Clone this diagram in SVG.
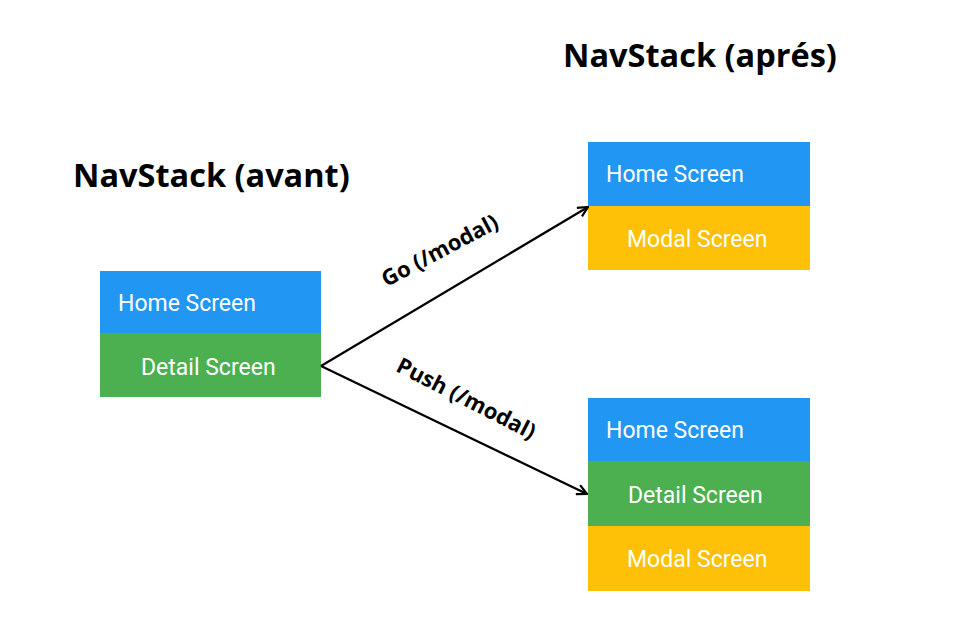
<svg xmlns="http://www.w3.org/2000/svg" width="980" height="644" viewBox="0 0 980 644">
<style>
.title{font-family:"Open Sans",sans-serif;font-weight:bold;font-size:32.5px;fill:#000}
.lbl{font-family:"Open Sans",sans-serif;font-weight:bold;font-size:22px;fill:#000}
.scr{font-family:Roboto,sans-serif;font-size:23px;fill:#fff}
.home{fill:#2196F3}
.detail{fill:#4CAF50}
.modal{fill:#FFC107}
.conn{stroke:#000;stroke-width:2.2;fill:none}
</style>
<defs>
<marker id="arr" viewBox="0 0 12 12" refX="11" refY="6" markerWidth="12" markerHeight="12" markerUnits="userSpaceOnUse" orient="auto">
<path d="M1,1 L11,6 L1,11" fill="none" stroke="#000" stroke-width="2.2"/>
</marker>
</defs>
<rect width="980" height="644" fill="#fff"/>
<text class="title" x="73" y="187">NavStack (avant)</text>
<text class="title" x="563" y="67">NavStack (aprés)</text>
<g id="stack-avant">
<rect class="home" x="100" y="271" width="221" height="62"/>
<text class="scr" x="118" y="311">Home Screen</text>
<rect class="detail" x="100" y="333" width="221" height="64"/>
<text class="scr" x="141" y="375">Detail Screen</text>
</g>
<g id="stack-go">
<rect class="home" x="588" y="142" width="222" height="64"/>
<text class="scr" x="606" y="182">Home Screen</text>
<rect class="modal" x="588" y="206" width="222" height="64"/>
<text class="scr" x="627" y="247">Modal Screen</text>
</g>
<g id="stack-push">
<rect class="home" x="588" y="398" width="222" height="63"/>
<text class="scr" x="606" y="438">Home Screen</text>
<rect class="detail" x="588" y="461" width="222" height="65"/>
<text class="scr" x="628" y="503">Detail Screen</text>
<rect class="modal" x="588" y="526" width="222" height="65"/>
<text class="scr" x="627" y="567">Modal Screen</text>
</g>
<g id="connectors">
<line class="conn" x1="321" y1="366" x2="588" y2="207" marker-end="url(#arr)"/>
<line class="conn" x1="321" y1="366" x2="587" y2="494" marker-end="url(#arr)"/>
<text class="lbl" transform="translate(440,251) rotate(-28)" text-anchor="middle" dy="7">Go (/modal)</text>
<text class="lbl" transform="translate(466,399) rotate(27)" text-anchor="middle" dy="7">Push (/modal)</text>
</g>
</svg>
